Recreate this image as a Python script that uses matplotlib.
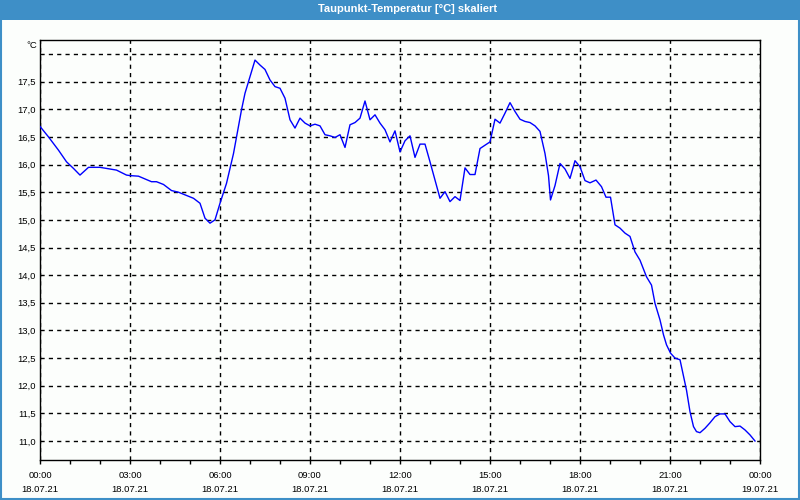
import matplotlib
matplotlib.use("Agg")
import matplotlib.pyplot as plt
from matplotlib.patches import Rectangle
import numpy as np

# ---- data (time in minutes since 18.07.21 00:00, dew point in °C) ----
minutes = [0, 17, 37, 53, 67, 80, 97, 120, 153, 173, 181, 197, 223, 233, 247, 263, 277,
           307, 320, 330, 340, 350, 360, 373, 387, 393, 403, 410, 420, 430, 440, 450,
           460, 470, 480, 490, 500, 510, 520, 530, 540, 550, 560, 570, 580, 590, 600,
           610, 620, 630, 640, 650, 660, 670, 680, 690, 700, 710, 720, 730, 740, 750,
           760, 770, 780, 790, 800, 810, 820, 830, 840, 850, 860, 870, 880, 890, 900,
           910, 920, 930, 940, 950, 960, 970, 980, 990, 1000, 1010, 1017, 1021, 1030,
           1040, 1050, 1060, 1070, 1080, 1090, 1100, 1112, 1123, 1132, 1141, 1150, 1160,
           1170, 1180, 1190, 1200, 1213, 1223, 1230, 1240, 1247, 1253, 1261, 1270, 1280,
           1287, 1293, 1300, 1307, 1313, 1320, 1330, 1340, 1350, 1360, 1370, 1380, 1390,
           1400, 1410, 1420, 1430]
dewpoint = [16.69, 16.50, 16.26, 16.05, 15.93, 15.81, 15.95, 15.95, 15.90, 15.81, 15.80,
            15.79, 15.69, 15.69, 15.64, 15.53, 15.50, 15.39, 15.30, 15.03, 14.94, 15.00,
            15.30, 15.66, 16.20, 16.50, 16.99, 17.29, 17.59, 17.89, 17.80, 17.72, 17.53,
            17.41, 17.38, 17.20, 16.81, 16.66, 16.84, 16.75, 16.70, 16.73, 16.70, 16.54,
            16.52, 16.49, 16.54, 16.31, 16.72, 16.76, 16.84, 17.15, 16.81, 16.90, 16.75,
            16.63, 16.41, 16.61, 16.23, 16.43, 16.52, 16.13, 16.37, 16.37, 16.05, 15.72,
            15.39, 15.51, 15.33, 15.42, 15.35, 15.94, 15.82, 15.82, 16.29, 16.35, 16.41,
            16.82, 16.75, 16.93, 17.12, 16.96, 16.82, 16.78, 16.76, 16.70, 16.60, 16.20,
            15.80, 15.36, 15.62, 16.02, 15.92, 15.75, 16.07, 15.96, 15.71, 15.67, 15.72,
            15.60, 15.41, 15.41, 14.91, 14.85, 14.76, 14.70, 14.42, 14.27, 13.97, 13.82,
            13.49, 13.19, 12.92, 12.74, 12.59, 12.50, 12.47, 12.17, 11.92, 11.53, 11.26,
            11.17, 11.15, 11.23, 11.33, 11.44, 11.49, 11.49, 11.35, 11.26, 11.27, 11.20,
            11.11, 11.00]

x_tick_hours = [0, 3, 6, 9, 12, 15, 18, 21, 24]
x_tick_times = ["00:00", "03:00", "06:00", "09:00", "12:00", "15:00", "18:00", "21:00", "00:00"]
x_tick_dates = ["18.07.21"] * 8 + ["19.07.21"]
y_ticks = [11.0, 11.5, 12.0, 12.5, 13.0, 13.5, 14.0, 14.5, 15.0, 15.5, 16.0, 16.5, 17.0, 17.5, 18.0]
title = "Taupunkt-Temperatur [°C] skaliert"
unit = "°C"

plt.rcParams['font.family'] = ['Liberation Sans', 'DejaVu Sans']

BLUE = "#3e8fc7"
fig = plt.figure(figsize=(8, 5), dpi=100, facecolor="#fcfefc")

# title bar and frame
fig.patches.append(Rectangle((0, 1 - 20/500), 1, 20/500, transform=fig.transFigure,
                             facecolor=BLUE, edgecolor="none", zorder=0))
fig.patches.append(Rectangle((0.0008, 0.0015), 0.9984, 0.997, transform=fig.transFigure,
                             facecolor="none", edgecolor=BLUE, lw=1.5, zorder=1))
fig.text(408/800, 1 - 8.5/500, title, color="white", fontsize=8.0, fontweight="bold",
         ha="center", va="center")

ax = fig.add_axes([40/800, 40/500, 720/800, 420/500])
ax.set_facecolor("#fcfefc")
hours = np.array(minutes) / 60.0
ax.plot(hours, dewpoint, color="#0000ff", lw=1, zorder=3)

ax.set_xlim(0, 24)
ax.set_ylim(11.0 - 19/55.3, 18.0 + 14/55.3)

ax.set_xticks(x_tick_hours)
ax.set_xticklabels([f"{t}\n{d}" for t, d in zip(x_tick_times, x_tick_dates)],
                   fontsize=6.8, linespacing=1.75)
ax.set_xticks(range(0, 25), minor=True)
ax.set_yticks(y_ticks)
ax.set_yticklabels([("" if v == 18.0 else f"{v:.1f}".replace(".", ",")) for v in y_ticks],
                   fontsize=6.8)

ax.tick_params(axis="x", which="both", direction="out", length=3, width=1, pad=5, colors="black")
ax.tick_params(axis="y", which="both", length=0, pad=3)

ax.grid(True, which="major", color="black", linestyle=(0, (3, 3)), lw=1)
for s in ax.spines.values():
    s.set_color("black")
    s.set_linewidth(1)

fig.text(37/800, 1 - 45/500, unit, fontsize=6.8, ha="right", va="center")

fig.savefig("out.png", dpi=100, facecolor=fig.get_facecolor())
